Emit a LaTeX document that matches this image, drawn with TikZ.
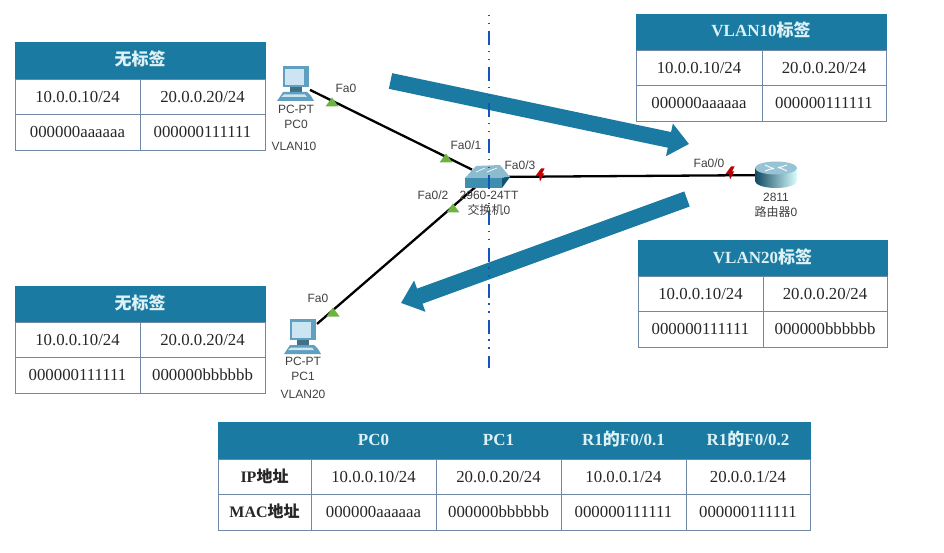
\documentclass[tikz,border=0pt]{standalone}
\usepackage{fontspec}
\setmainfont{Liberation Serif}
\setsansfont{Liberation Sans}
\newfontfamily\cjk{Noto Sans CJK SC}
\usetikzlibrary{positioning,arrows.meta}
\definecolor{teal0}{HTML}{1B7AA1}
\definecolor{grid0}{HTML}{6F88A3}
\definecolor{head0}{HTML}{DDF2F6}
\definecolor{green0}{HTML}{6DB33F}
\definecolor{frame0}{HTML}{5F9FC0}
\definecolor{screen0}{HTML}{CDE5F3}
\tikzset{
  headcell/.style={draw=teal0,fill=teal0,text=head0,font=\fontsize{17}{19}\selectfont\bfseries,inner sep=0pt,outer sep=0pt,text height=12pt,text depth=2pt,minimum height=#1},
  headcell/.default=36pt,
  datacell/.style={draw=grid0,line width=0.9pt,text=black!85,font=\fontsize{16.8}{19}\selectfont,inner sep=0pt,outer sep=0pt,text height=11.5pt,text depth=0.5pt,minimum height=35.5pt,minimum width=#1},
  datacell/.default=125pt,
  rowcell/.style={datacell=93pt,font=\fontsize{16}{18}\selectfont\bfseries},
  devlabel/.style={font=\sffamily\fontsize{12}{15}\selectfont,text=black!75,align=center,inner sep=0pt},
  devbox/.style={inner sep=0pt,outer sep=0pt},
  lan/.style={line width=2.3pt,black},
  bigarrow/.style={line width=16pt,teal0,-{Triangle[width=32pt,length=20pt]}},
  upmark/.pic={\fill[green0] (-6.5,4.5) -- (6.5,4.5) -- (0,-4.5) -- cycle;},
  downmark/.pic={\fill[red!75!black] (1,-6.5) -- (4.5,-6.5) -- (2,-1.5) -- (4,-1.5) -- (0,6.5) -- (-1,1) -- (-4.5,1) -- cycle;},
  pcicon/.pic={
    \fill[frame0] (-13,-17) -- (13,-17) -- (13,4) -- (-13,4) -- cycle;
    \fill[screen0] (-11,-14) -- (8,-14) -- (8,2) -- (-11,2) -- cycle;
    \fill[frame0!70!black] (-6,4) -- (6,4) -- (6,9) -- (-6,9) -- cycle;
    \fill[frame0] (-13,9) -- (11,9) -- (15,13) -- (18,18) -- (-19,18) -- cycle;
    \fill[screen0] (-12,11.5) -- (9,11.5) -- (11,14) -- (-15,14) -- cycle;
  },
  routericon/.pic={
    \shade[left color=teal0!60!black,right color=cyan!15!white] (-21,-7) -- (-21,6) arc[start angle=180,end angle=0,x radius=21,y radius=7] -- (21,-7) -- cycle;
    \fill[teal0!45!white] (0,-7) ellipse[x radius=21,y radius=6.5];
    \draw[white,line width=0.9pt] (-11,-10) -- (-2,-6) (2,-8) -- (11,-4) (-11,-4) -- (-2,-7) (2,-7) -- (11,-10);
  },
  switchicon/.pic={
    \fill[teal0!50!white] (-22,1) -- (-11,-11) -- (13,-12) -- (23,0) -- (15,1) -- cycle;
    \fill[teal0!70!black] (15,1) -- (23,0) -- (15,11) -- cycle;
    \fill[teal0!85!white] (-22,1) -- (15,1) -- (15,11) -- (-22,11) -- cycle;
    \draw[white,line width=0.7pt] (-11,-5) -- (-2,-9) (0,-5) -- (10,-9);
  }
}

\begin{document}
\begin{tikzpicture}[x=1pt,y=-1pt]
\useasboundingbox (0,0) rectangle (944,553);

% devices
\node[devbox,minimum width=28pt,minimum height=36pt] (pc_0) at (296,83) {};
\node[devbox,minimum width=28pt,minimum height=36pt] (pc_1) at (303,336) {};
\node[devbox,minimum width=30pt,minimum height=18pt] (sw_0) at (487,177) {};
\node[devbox,minimum width=38pt,minimum height=26pt] (r_0) at (776,175) {};

% links
\draw[lan] (pc_0) -- (sw_0);
\draw[lan] (pc_1) -- (sw_0);
\draw[lan] (sw_0) -- (r_0);

\path (296,83) pic {pcicon};
\path (303,336) pic {pcicon};
\path (487,177) pic {switchicon};
\path (776,175) pic {routericon};

\path (332,102) pic {upmark};
\path (446,158) pic {upmark};
\path (453,208) pic {upmark};
\path (333,312) pic {upmark};
\path (540,175) pic {downmark};
\path (730,173) pic {downmark};

% big arrows
\coordinate (a_0) at (390.5,81);
\coordinate (a_1) at (689,144);
\coordinate (b_0) at (687,199);
\coordinate (b_1) at (401,303);
\draw[bigarrow] (a_0) -- (a_1);
\draw[bigarrow] (b_0) -- (b_1);

% boundary line
\coordinate (v_0) at (489,15);
\coordinate (v_1) at (489,368);
\draw[teal0!70!blue,line width=1.2pt,dash pattern=on 14pt off 5.5pt on 1.5pt off 6.5pt on 1.5pt off 7pt,dash phase=19.5pt] (v_0) -- (v_1);

% device labels
\node[devlabel] (l_f0) at (346,88) {Fa0};
\node[devlabel] (l_f1) at (466,145) {Fa0/1};
\node[devlabel] (l_f2) at (433,195) {Fa0/2};
\node[devlabel] (l_f3) at (520,165) {Fa0/3};
\node[devlabel] (l_f4) at (709,163) {Fa0/0};
\node[devlabel] (l_f5) at (318,298) {Fa0};
\node[devlabel] (l_pc0) at (296,116.5) {PC-PT\\PC0};
\node[devlabel] (l_v10) at (294,146) {VLAN10};
\node[devlabel] (l_pc1) at (303,368.5) {PC-PT\\PC1};
\node[devlabel] (l_v20) at (303,394) {VLAN20};
\node[devlabel] (l_sw) at (489,203.5) {2960-24TT\\{\cjk 交换机}0};
\node[devlabel] (l_r) at (776,205.5) {2811\\{\cjk 路由器}0};

% table top left
\node[headcell=37pt,minimum width=250pt,anchor=north west] (tl_h) at (15,42) {{\cjk\bfseries 无标签}};
\node[datacell,below right=0pt and 0pt of tl_h.south west] (tl_a) {10.0.0.10/24};
\node[datacell,right=0pt of tl_a] (tl_b) {20.0.0.20/24};
\node[datacell,below=0pt of tl_a] (tl_c) {000000aaaaaa};
\node[datacell,right=0pt of tl_c] (tl_d) {000000111111};

% table top right
\node[headcell,minimum width=250pt,anchor=north west] (tr_h) at (636,14) {VLAN10{\cjk\bfseries 标签}};
\node[datacell=126pt,below right=0pt and 0pt of tr_h.south west] (tr_a) {10.0.0.10/24};
\node[datacell=124pt,right=0pt of tr_a] (tr_b) {20.0.0.20/24};
\node[datacell=126pt,below=0pt of tr_a] (tr_c) {000000aaaaaa};
\node[datacell=124pt,right=0pt of tr_c] (tr_d) {000000111111};

% table middle right
\node[headcell,minimum width=249pt,anchor=north west] (mr_h) at (638,240) {VLAN20{\cjk\bfseries 标签}};
\node[datacell,below right=0pt and 0pt of mr_h.south west] (mr_a) {10.0.0.10/24};
\node[datacell=124pt,right=0pt of mr_a] (mr_b) {20.0.0.20/24};
\node[datacell,below=0pt of mr_a] (mr_c) {000000111111};
\node[datacell=124pt,right=0pt of mr_c] (mr_d) {000000bbbbbb};

% table bottom left
\node[headcell,minimum width=250pt,anchor=north west] (bl_h) at (15,286) {{\cjk\bfseries 无标签}};
\node[datacell,below right=0pt and 0pt of bl_h.south west] (bl_a) {10.0.0.10/24};
\node[datacell,right=0pt of bl_a] (bl_b) {20.0.0.20/24};
\node[datacell,below=0pt of bl_a] (bl_c) {000000111111};
\node[datacell,right=0pt of bl_c] (bl_d) {000000bbbbbb};

% address table
\node[headcell=37pt,minimum width=93pt,anchor=north west] (t_h0) at (218,422) {};
\node[headcell=37pt,minimum width=125pt,right=0pt of t_h0] (t_h1) {PC0};
\node[headcell=37pt,minimum width=125pt,right=0pt of t_h1] (t_h2) {PC1};
\node[headcell=37pt,minimum width=125pt,right=0pt of t_h2] (t_h3) {R1{\cjk\bfseries 的}F0/0.1};
\node[headcell=37pt,minimum width=124pt,right=0pt of t_h3] (t_h4) {R1{\cjk\bfseries 的}F0/0.2};
\node[rowcell,below right=0pt and 0pt of t_h0.south west] (t_a0) {IP{\cjk\bfseries 地址}};
\node[datacell,right=0pt of t_a0] (t_a1) {10.0.0.10/24};
\node[datacell,right=0pt of t_a1] (t_a2) {20.0.0.20/24};
\node[datacell,right=0pt of t_a2] (t_a3) {10.0.0.1/24};
\node[datacell=124pt,right=0pt of t_a3] (t_a4) {20.0.0.1/24};
\node[rowcell,below=0pt of t_a0] (t_b0) {MAC{\cjk\bfseries 地址}};
\node[datacell,right=0pt of t_b0] (t_b1) {000000aaaaaa};
\node[datacell,right=0pt of t_b1] (t_b2) {000000bbbbbb};
\node[datacell,right=0pt of t_b2] (t_b3) {000000111111};
\node[datacell=124pt,right=0pt of t_b3] (t_b4) {000000111111};
\end{tikzpicture}
\end{document}
